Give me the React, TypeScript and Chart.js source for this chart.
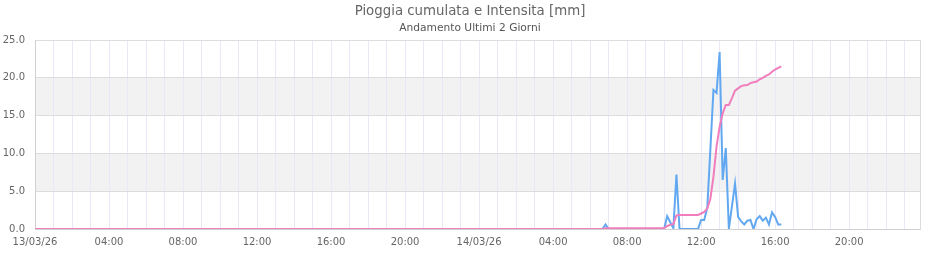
import { useEffect, useRef } from "react";
import { Chart, registerables } from "chart.js";

Chart.register(...registerables);

// ---- data ----
const TITLE = "Pioggia cumulata e Intensita [mm]";
const SUBTITLE = "Andamento Ultimi 2 Giorni";

const TIMES = [
  "13/03 00:00",
  "14/03 06:40", "14/03 06:50", "14/03 07:00",
  "14/03 10:00", "14/03 10:10", "14/03 10:20", "14/03 10:30", "14/03 10:40", "14/03 10:50",
  "14/03 11:50", "14/03 12:00", "14/03 12:10", "14/03 12:20", "14/03 12:30", "14/03 12:40",
  "14/03 12:50", "14/03 13:00", "14/03 13:10", "14/03 13:20", "14/03 13:30", "14/03 13:40",
  "14/03 13:50", "14/03 14:00", "14/03 14:10", "14/03 14:20", "14/03 14:30", "14/03 14:40",
  "14/03 14:50", "14/03 15:00", "14/03 15:10", "14/03 15:20", "14/03 15:30", "14/03 15:40",
  "14/03 15:50", "14/03 16:00", "14/03 16:10", "14/03 16:20",
];

const INTENSITA = [
  0,
  0, 0.6, 0,
  0, 1.7, 0.9, 0.1, 7.2, 0,
  0, 1.2, 1.2, 2.8, 10.5, 18.4,
  18.0, 23.4, 6.5, 10.7, 0, 3.0,
  6.0, 1.6, 1.0, 0.6, 1.1, 1.2,
  0, 1.3, 1.7, 1.1, 1.5, 0.6,
  2.2, 1.6, 0.6, 0.6,
];

const CUMULATA = [
  0,
  0, 0.1, 0.1,
  0.1, 0.4, 0.55, 0.65, 1.8, 1.85,
  1.85, 2.05, 2.25, 2.7, 4.0, 6.9,
  10.9, 13.5, 15.3, 16.4, 16.4, 17.3,
  18.3, 18.6, 18.9, 19.0, 19.05, 19.3,
  19.4, 19.5, 19.8, 20.0, 20.25, 20.45,
  20.8, 21.1, 21.3, 21.5,
];

const X_TICK_LABELS = [
  "13/03/26", "04:00", "08:00", "12:00", "16:00", "20:00",
  "14/03/26", "04:00", "08:00", "12:00", "16:00", "20:00",
];
const X_MAX_HOURS = 47.83;
const Y_MIN = 0;
const Y_MAX = 25;
const Y_STEP = 5;
const BANDS = [
  [5, 10],
  [15, 20],
];

function toHours(s: string): number {
  const [d, hm] = s.split(" ");
  const day = Number(d.split("/")[0]);
  const [h, m] = hm.split(":").map(Number);
  return (day - 13) * 24 + h + m / 60;
}

const FONT = "'DejaVu Sans', Verdana, sans-serif";

const bandsPlugin = {
  id: "bands",
  beforeDraw(chart: any) {
    const { ctx, chartArea: a, scales } = chart;
    const y = scales.y;
    ctx.save();
    ctx.fillStyle = "#f2f2f2";
    for (const [lo, hi] of BANDS) {
      const t = y.getPixelForValue(hi);
      const b = y.getPixelForValue(lo);
      ctx.fillRect(a.left, t, a.right - a.left, b - t);
    }
    ctx.restore();
  },
  beforeDatasetsDraw(chart: any) {
    const { ctx, chartArea: a } = chart;
    ctx.save();
    ctx.strokeStyle = "#dcdcdc";
    ctx.lineWidth = 1;
    const xr = Math.round(a.right) + 0.5;
    ctx.beginPath();
    ctx.moveTo(xr, Math.round(a.top));
    ctx.lineTo(xr, Math.round(a.bottom) + 1);
    ctx.stroke();
    ctx.restore();
  },
};

export default function App() {
  const ref = useRef<HTMLCanvasElement | null>(null);

  useEffect(() => {
    document.body.style.margin = "0";
    if (!ref.current) return;
    const hours = TIMES.map(toHours);
    const chart = new Chart(ref.current, {
      type: "line",
      data: {
        datasets: [
          {
            label: "Cumulata",
            data: hours.map((x, i) => ({ x, y: CUMULATA[i] })),
            borderColor: "rgb(240,125,188)",
            backgroundColor: "rgb(240,125,188)",
            borderWidth: 2,
            pointRadius: 0,
            tension: 0,
            fill: false,
          },
          {
            label: "Intensita",
            data: hours.map((x, i) => ({ x, y: INTENSITA[i] })),
            borderColor: "rgb(98,168,240)",
            backgroundColor: "rgb(98,168,240)",
            borderWidth: 2,
            pointRadius: 0,
            tension: 0,
            fill: false,
          },
        ],
      },
      options: {
        animation: false,
        responsive: false,
        maintainAspectRatio: false,
        layout: { padding: { left: 0, right: 0, top: 0, bottom: 0 } },
        plugins: {
          legend: { display: false },
          tooltip: { enabled: false },
          title: {
            display: true,
            text: TITLE,
            color: "#666",
            font: { family: FONT, size: 13.33, weight: "normal" },
            padding: { top: 4, bottom: 2 },
          },
          subtitle: {
            display: true,
            text: SUBTITLE,
            color: "#555",
            font: { family: FONT, size: 10.67, weight: "normal" },
            padding: { top: 0, bottom: 5.2 },
          },
        },
        scales: {
          x: {
            type: "linear",
            min: 0,
            max: X_MAX_HOURS,
            afterBuildTicks: (scale: any) => {
              const t = [];
              for (let h = 0; h <= Math.floor(X_MAX_HOURS); h++) t.push({ value: h });
              scale.ticks = t;
            },
            afterFit: (scale: any) => {
              scale.height = 31;
            },
            ticks: {
              autoSkip: false,
              maxRotation: 0,
              minRotation: 0,
              padding: 7,
              color: "#666",
              font: { family: FONT, size: 10 },
              callback: (v: any) => {
                const n = Number(v);
                if (n % 4 !== 0) return "";
                return X_TICK_LABELS[n / 4] ?? "";
              },
            },
            grid: { color: "#e8e8f8", drawTicks: false },
            border: { color: "#d0d0d0" },
          },
          y: {
            min: Y_MIN,
            max: Y_MAX,
            afterFit: (scale: any) => {
              scale.width = 35;
            },
            ticks: {
              stepSize: Y_STEP,
              padding: 10,
              color: "#666",
              font: { family: FONT, size: 10 },
              callback: (v: any) => Number(v).toFixed(1),
            },
            grid: { color: "#dddddd", drawTicks: false },
            border: { color: "#d0d0d0" },
          },
          yRight: {
            position: "right",
            min: 0,
            max: 1,
            display: true,
            afterFit: (scale: any) => {
              scale.width = 20;
            },
            ticks: { display: false },
            grid: { display: false, drawTicks: false },
            border: { display: false },
          },
        },
      },
      plugins: [bandsPlugin],
    } as any);
    return () => chart.destroy();
  }, []);

  return (
    <div style={{ width: 940, height: 260 }}>
      <canvas ref={ref} width={940} height={260} style={{ display: "block" }} />
    </div>
  );
}
